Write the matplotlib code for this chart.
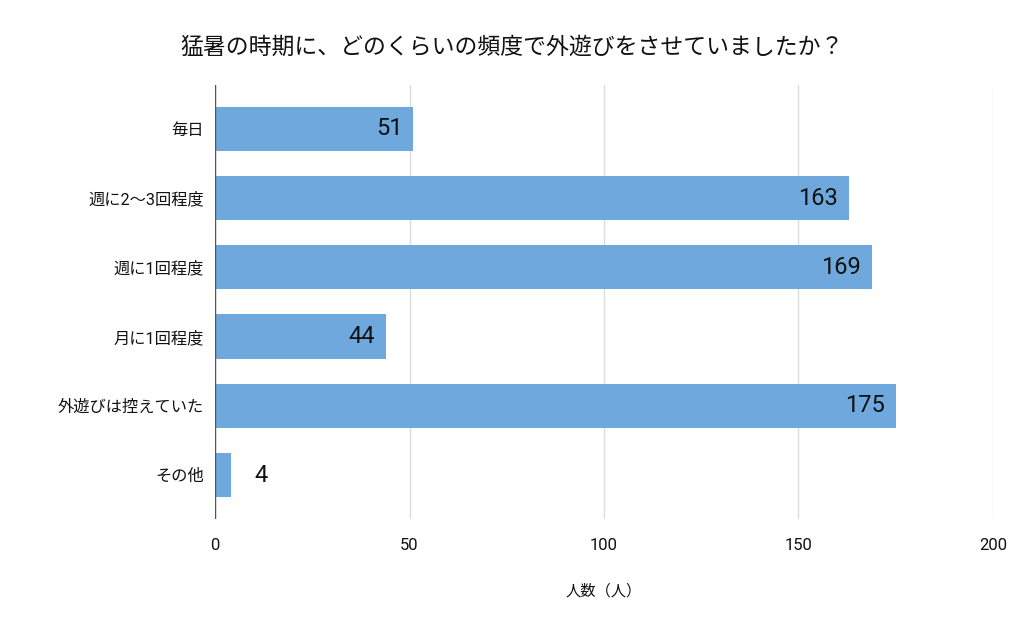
import matplotlib
matplotlib.use("Agg")
import matplotlib.pyplot as plt

plt.rcParams["font.family"] = ["Roboto", "Noto Sans CJK JP", "DejaVu Sans"]

categories = ["毎日", "週に2〜3回程度", "週に1回程度", "月に1回程度", "外遊びは控えていた", "その他"]
counts = [51, 163, 169, 44, 175, 4]
xticks = [0, 50, 100, 150, 200]
title = "猛暑の時期に、どのくらいの頻度で外遊びをさせていましたか？"
xlabel = "人数（人）"

bar_color = "#6fa8dc"
text_color = "#111111"

fig = plt.figure(figsize=(10.24, 6.31), dpi=100)
ax = fig.add_axes([0.21, 0.178, 0.7597, 0.687])

ypos = list(range(len(categories)))
ax.barh(ypos, counts, height=0.64, color=bar_color, zorder=2)

for y, v in zip(ypos, counts):
    if v >= 20:
        ax.annotate(str(v), (v, y), xytext=(-8, 0), textcoords="offset points",
                    ha="right", va="center", fontsize=17, color=text_color, zorder=3)
    else:
        ax.annotate(str(v), (v, y), xytext=(17, 0), textcoords="offset points",
                    ha="left", va="center", fontsize=17, color=text_color, zorder=3)

ax.set_xlim(0, 200)
ax.set_ylim(5.63, -0.63)
ax.set_xticks(xticks)
ax.set_xticklabels([str(t) for t in xticks], fontsize=12, color=text_color)
ax.set_yticks(ypos)
ax.set_yticklabels(categories, fontsize=11.7, color=text_color)
ax.tick_params(axis="both", length=0)
ax.tick_params(axis="x", pad=14)
ax.tick_params(axis="y", pad=8)

ax.grid(axis="x", color="#dcdcdc", linewidth=1, zorder=0)
ax.axvline(0, color="#555555", linewidth=1, zorder=3)
for s in ax.spines.values():
    s.set_visible(False)

ax.set_xlabel(xlabel, fontsize=11, color=text_color, labelpad=22)
fig.text(0.5, 0.925, title, ha="center", va="center", fontsize=16.5, color=text_color)

fig.savefig("out.png", dpi=100)
